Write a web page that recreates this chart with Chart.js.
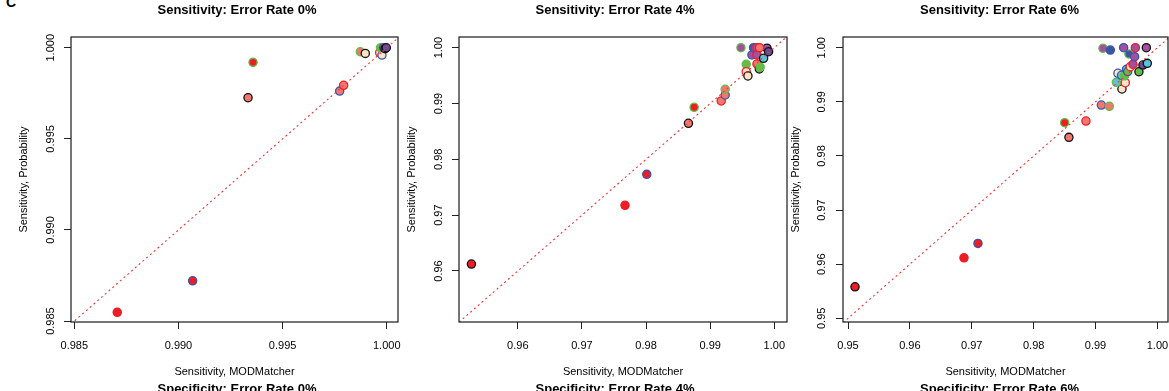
<!DOCTYPE html>
<html>
<head>
<meta charset="utf-8">
<script src="https://cdn.jsdelivr.net/npm/chart.js@4.4.1/dist/chart.umd.min.js"></script>
<style>
html,body{margin:0;padding:0;background:#fff;width:1169px;height:391px;overflow:hidden;position:relative}
canvas{position:absolute;top:0}
#lab{position:absolute;left:6px;top:-5px;font:bold 14px "Liberation Sans",Arial,sans-serif;line-height:14px;color:#000}
</style>
</head>
<body>
<div id="lab">C</div>
<script>
// ---- Panel titles ----
const titles = ['Sensitivity: Error Rate 0%', 'Sensitivity: Error Rate 4%', 'Sensitivity: Error Rate 6%'];
const nextTitles = ['Specificity: Error Rate 0%', 'Specificity: Error Rate 4%', 'Specificity: Error Rate 6%'];
const xAxisTitle = 'Sensitivity, MODMatcher';
const yAxisTitle = 'Sensitivity, Probability';

// ---- Error rate 0% ----
const x0 = [0.98706, 0.99068, 0.99334, 0.99358, 0.99774, 0.99793, 0.99873, 0.99897, 0.99966, 0.99977, 0.99970, 0.99985, 0.99992, 0.99998];
const y0 = [0.98548, 0.98721, 0.99726, 0.99920, 0.99762, 0.99794, 0.99978, 0.99969, 0.99973, 0.99960, 1.00000, 1.00000, 0.99995, 1.00000];
const fill0 = ['R','R','S','R','S','S','S','P','P','P','G','U','U','D'];
const edge0 = ['R','B','K','G','B','R','G','K','R','B','G','B','K','K'];
const ticks0 = [0.985, 0.990, 0.995, 1.000];
const tickLabels0 = ['0.985', '0.990', '0.995', '1.000'];
const xLim0 = [0.98484, 1.00054];
const yLim0 = [0.98495, 1.00059];

// ---- Error rate 4% ----
const x4 = [0.95277, 0.97672, 0.98011, 0.98661, 0.98750, 0.99172, 0.99234, 0.99234, 0.99480, 0.99562, 0.99562, 0.99589, 0.99651, 0.99677, 0.99700, 0.99730, 0.99730, 0.99730, 0.99766, 0.99780, 0.99833, 0.99886, 0.99911, 0.99770];
const y4 = [0.96124, 0.97176, 0.97731, 0.98645, 0.98932, 0.99045, 0.99152, 0.99254, 1.00000, 0.99702, 0.99570, 0.99493, 0.99869, 1.00000, 0.99990, 1.00000, 0.99708, 0.99870, 0.99618, 0.99650, 0.99810, 0.99990, 0.99928, 1.00000];
const fill4 = ['R','R','R','S','R','S','S','S','U','G','P','P','U','B','U','U','S','U','G','G','C','U','D','S'];
const edge4 = ['K','R','B','K','G','R','B','G','G','G','R','K','B','B','B','R','R','R','K','G','K','K','K','R'];
const ticks4 = [0.96, 0.97, 0.98, 0.99, 1.00];
const tickLabels4 = ['0.96', '0.97', '0.98', '0.99', '1.00'];
const xLim4 = [0.95083, 1.00198];
const yLim4 = [0.95086, 1.00191];

// ---- Error rate 6% ----
const x6 = [0.95113, 0.96874, 0.97100, 0.98570, 0.98501, 0.98845, 0.99094, 0.99223, 0.99427, 0.99336, 0.99481, 0.99362, 0.99420, 0.99470, 0.99500, 0.99520, 0.99562, 0.99604, 0.99701, 0.99766, 0.99837, 0.99540, 0.99632, 0.99120, 0.99239, 0.99454, 0.99643, 0.99821];
const y6 = [0.95582, 0.96118, 0.96384, 0.98344, 0.98614, 0.98645, 0.98941, 0.98917, 0.99237, 0.99360, 0.99353, 0.99527, 0.99490, 0.99480, 0.99600, 0.99560, 0.99649, 0.99693, 0.99556, 0.99680, 0.99711, 0.99884, 0.99834, 0.99989, 0.99957, 1.00000, 1.00000, 1.00000];
const fill6 = ['R','R','R','S','R','S','S','S','P','C','P','P','C','G','C','G','P','U','G','D','C','B','U','U','B','U','U','U'];
const edge6 = ['K','R','B','K','G','R','B','G','K','G','R','B','B','G','B','B','R','R','K','K','K','G','B','G','B','B','R','K'];
const ticks6 = [0.95, 0.96, 0.97, 0.98, 0.99, 1.00];
const tickLabels6 = ['0.95', '0.96', '0.97', '0.98', '0.99', '1.00'];
const xLim6 = [0.94919, 1.00171];
const yLim6 = [0.94932, 1.00198];

// ---- styles ----
const PAL = {R:'#EC1D25', S:'#F2786F', G:'#65BC48', B:'#3B55A6', U:'#A2509F', C:'#58C4D8', P:'#FDE3C7', K:'#111111', D:'#6B4A9A'};
Chart.defaults.font.family = '"Liberation Sans", Arial, Helvetica, sans-serif';
Chart.defaults.color = '#000';

// layout per panel: canvas left/width, left axis width, right spacer width (centres the titles)
const panels = [
  {x:x0, y:y0, fill:fill0, edge:edge0, xt:ticks0, yt:ticks0, xl:tickLabels0, yl:tickLabels0, xLim:xLim0, yLim:yLim0, title:titles[0], sub:nextTitles[0],
   L:{left:0, width:474, W:71, Wr:76, yTitlePad:17.4, yTickPad:-0.75}},
  {x:x4, y:y4, fill:fill4, edge:edge4, xt:ticks4, yt:ticks4, xl:tickLabels4, yl:tickLabels4, xLim:xLim4, yLim:yLim4, title:titles[1], sub:nextTitles[1],
   L:{left:388, width:454, W:71, Wr:55, yTitlePad:16.9, yTickPad:2.3}},
  {x:x6, y:y6, fill:fill6, edge:edge6, xt:ticks6, yt:ticks6, xl:tickLabels6, yl:tickLabels6, xLim:xLim6, yLim:yLim6, title:titles[2], sub:nextTitles[2],
   L:{left:772, width:455, W:71, Wr:59, yTitlePad:16.9, yTickPad:3.3}}
];

const framePlugin = {
  id: 'frame',
  afterDraw(chart) {
    const {ctx, chartArea: a} = chart;
    ctx.save();
    ctx.strokeStyle = '#1a1a1a';
    ctx.lineWidth = 1.2;
    ctx.strokeRect(a.left, a.top, a.right - a.left, a.bottom - a.top);
    ctx.restore();
  }
};

panels.forEach(p => {
  const cv = document.createElement('canvas');
  cv.width = p.L.width; cv.height = 400;
  cv.style.left = p.L.left + 'px';
  document.body.appendChild(cv);
  const lo = Math.min(p.xLim[0], p.yLim[0]);
  const hi = Math.max(p.xLim[1], p.yLim[1]);
  new Chart(cv, {
    type: 'scatter',
    data: {
      datasets: [
        {
          type: 'scatter',
          data: p.x.map((v, k) => ({x: v, y: p.y[k]})),
          pointRadius: 4.1,
          pointBorderWidth: 1.3,
          pointBackgroundColor: p.fill.map(c => PAL[c]),
          pointBorderColor: p.edge.map(c => PAL[c]),
          order: 1
        },
        {
          type: 'line',
          data: [{x: lo, y: lo}, {x: hi, y: hi}],
          borderColor: '#F03434',
          borderWidth: 1.1,
          borderDash: [2, 3],
          pointRadius: 0,
          fill: false,
          order: 0
        }
      ]
    },
    options: {
      responsive: false,
      animation: false,
      events: [],
      layout: {padding: 0},
      plugins: {
        legend: {display: false},
        tooltip: {enabled: false},
        title: {display: true, text: p.title, fullSize: true, color: '#000',
                font: {size: 13, weight: 'bold'}, padding: {top: 2.2, bottom: 19.2}},
        subtitle: {display: true, text: p.sub, position: 'bottom', fullSize: true, color: '#000',
                   font: {size: 13, weight: 'bold'}, padding: {top: 2, bottom: 2.5}}
      },
      scales: {
        x: {
          type: 'linear', position: 'bottom', min: p.xLim[0], max: p.xLim[1],
          afterBuildTicks: s => { s.ticks = p.xt.map(v => ({value: v})); },
          afterFit: s => { s.height = 57.9; },
          ticks: {autoSkip: false, maxRotation: 0, minRotation: 0, padding: 10.2, font: {size: 11}, color: '#000',
                  callback: (v, i) => p.xl[i]},
          grid: {display: true, drawOnChartArea: false, drawTicks: true, tickLength: 7, color: '#222', lineWidth: 1},
          border: {display: false},
          title: {display: true, text: xAxisTitle, font: {size: 11}, color: '#000', padding: {top: 0, bottom: 1.5}}
        },
        y: {
          type: 'linear', position: 'left', min: p.yLim[0], max: p.yLim[1],
          afterBuildTicks: s => { s.ticks = p.yt.map(v => ({value: v})); },
          afterFit: s => { s.width = p.L.W; },
          ticks: {autoSkip: false, minRotation: 90, maxRotation: 90, crossAlign: 'center', padding: p.L.yTickPad,
                  font: {size: 11}, color: '#000', callback: (v, i) => p.yl[i]},
          grid: {display: true, drawOnChartArea: false, drawTicks: true, tickLength: 7, color: '#222', lineWidth: 1},
          border: {display: false},
          title: {display: true, text: yAxisTitle, font: {size: 11}, color: '#000', padding: {top: p.L.yTitlePad, bottom: 0}}
        },
        spacer: {
          type: 'linear', position: 'right', display: true,
          afterFit: s => { s.width = p.L.Wr; },
          ticks: {display: false},
          grid: {display: false},
          border: {display: false},
          title: {display: false}
        }
      }
    },
    plugins: [framePlugin]
  });
});
</script>
</body>
</html>
